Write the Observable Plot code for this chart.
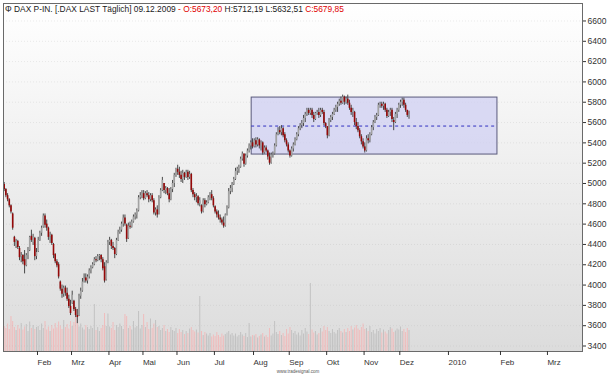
<!DOCTYPE html>
<html>
<head>
<meta charset="utf-8">
<script src="https://cdn.jsdelivr.net/npm/d3@7"></script>
<script src="https://cdn.jsdelivr.net/npm/@observablehq/plot@0.6"></script>
<style>
  body { margin: 0; background: #fff; }
  #wrap { position: relative; width: 609px; height: 378px; overflow: hidden; font-family: "Liberation Sans", Arial, sans-serif; }
  #wrap svg { position: absolute; left: 0; top: 0; }
  #title { position: absolute; left: 5px; top: 4px; font-size: 8.4px; line-height: 10px; color: #1a1a1a; white-space: nowrap; }
  #title .r { color: #e00000; }
  #wm { position: absolute; left: 0; width: 596px; top: 369px; text-align: center; font-size: 4.5px; color: #555; }
</style>
</head>
<body>
<div id="wrap">
  <div id="title"><span>&#934;</span> DAX P-IN. [.DAX LAST Täglich] 09.12.2009 <span class="r">- O:5673,20</span> H:5712,19 L:5632,51 <span class="r">C:5679,85</span></div>
  <div id="wm">www.tradesignal.com</div>
</div>
<script>
// Trading-day index of the first candle (2 = 6 Jan 2009)
const firstIndex = 2;

const opens = [
4990,4940,4880,4840,4780,4700,4470,4380,4430,4360,
4280,4290,4250,4190,4290,4340,4480,4420,4460,4280,
4330,4440,4510,4570,4680,4600,4560,4480,4490,4400,
4300,4230,4200,4030,3960,3910,3970,3920,3860,3790,
3820,3840,3760,3700,3700,3890,3940,4030,4070,4040,
4080,4140,4170,4200,4250,4240,4280,4290,4250,4180,
4050,4220,4420,4440,4380,4360,4300,4440,4520,4540,
4600,4660,4590,4460,4580,4570,4620,4670,4690,4730,
4860,4880,4900,4850,4900,4880,4840,4880,4830,4710,
4740,4700,4860,4930,5000,4930,4950,4900,4840,4940,
5000,5080,5140,5110,5080,5040,5100,5060,5110,5060,
5090,4930,4890,4860,4870,4800,4780,4720,4830,4790,
4810,4860,4890,4850,4770,4720,4690,4660,4640,4610,
4580,4690,4760,4920,4950,4990,5040,5120,5140,5160,
5240,5290,5190,5270,5320,5370,5400,5360,5420,5380,
5430,5370,5400,5300,5350,5320,5260,5200,5280,5290,
5370,5480,5520,5500,5540,5480,5420,5380,5320,5270,
5340,5380,5430,5480,5540,5570,5590,5640,5680,5720,
5690,5720,5670,5630,5690,5700,5670,5720,5700,5590,
5560,5470,5620,5650,5680,5720,5750,5780,5810,5790,
5850,5800,5830,5790,5740,5700,5700,5600,5560,5520,
5460,5410,5360,5320,5440,5420,5480,5550,5600,5650,
5670,5770,5780,5760,5780,5720,5660,5700,5720,5620,
5600,5680,5720,5770,5800,5820,5770,5720,5673.20];

const highs = [
5010,4950,4900,4850,4790,4710,4480,4450,4440,4380,
4320,4300,4340,4310,4370,4480,4540,4500,4470,4360,
4470,4530,4580,4700,4700,4640,4570,4520,4500,4410,
4310,4250,4220,4040,4000,3990,3990,3970,3900,3850,
3940,3850,3780,3760,3910,3970,4065,4110,4110,4100,
4160,4190,4220,4270,4280,4300,4300,4300,4270,4220,
4240,4440,4470,4450,4420,4370,4460,4540,4570,4620,
4690,4690,4600,4610,4620,4640,4690,4710,4750,4880,
4910,4930,4930,4920,4930,4910,4900,4900,4850,4760,
4780,4880,4950,5060,5000,4970,4960,4950,4960,5030,
5100,5150,5180,5160,5120,5130,5110,5130,5130,5120,
5100,4950,4910,4900,4880,4860,4790,4850,4850,4830,
4880,4910,4930,4870,4780,4740,4730,4690,4660,4670,
4700,4780,4950,4980,5010,5060,5150,5160,5180,5260,
5310,5290,5290,5340,5390,5420,5440,5440,5450,5450,
5440,5420,5410,5370,5370,5330,5300,5300,5310,5390,
5500,5550,5560,5570,5550,5500,5440,5400,5330,5360,
5400,5450,5500,5560,5590,5620,5670,5700,5740,5740,
5740,5740,5700,5700,5720,5740,5740,5740,5720,5600,
5560,5640,5670,5700,5740,5770,5800,5830,5850,5870,
5860,5850,5870,5820,5770,5740,5710,5640,5600,5540,
5480,5440,5400,5470,5480,5500,5570,5620,5670,5690,
5790,5800,5800,5800,5790,5740,5720,5740,5740,5650,
5700,5740,5790,5820,5840,5840,5790,5720,5712.19];

const lows = [
4920,4860,4820,4760,4700,4540,4380,4360,4350,4240,
4220,4200,4110,4180,4250,4330,4420,4390,4240,4250,
4320,4430,4480,4560,4560,4530,4440,4410,4390,4260,
4210,4170,4060,3940,3870,3880,3890,3840,3770,3700,
3810,3740,3680,3620,3690,3860,3930,4020,4020,4010,
4060,4110,4160,4190,4220,4230,4240,4220,4140,4020,
4040,4210,4390,4350,4340,4260,4290,4430,4500,4520,
4570,4580,4420,4450,4550,4560,4610,4640,4650,4720,
4840,4850,4830,4840,4860,4810,4820,4810,4690,4680,
4660,4690,4850,4920,4900,4890,4880,4810,4830,4910,
4960,5060,5080,5050,5010,5000,5030,5050,5030,5040,
4910,4860,4830,4810,4780,4770,4700,4710,4760,4780,
4800,4830,4830,4760,4700,4660,4640,4610,4590,4560,
4570,4680,4750,4890,4910,4980,5030,5080,5100,5150,
5220,5160,5180,5250,5300,5330,5340,5350,5350,5360,
5340,5320,5280,5290,5300,5230,5180,5190,5250,5280,
5360,5470,5480,5470,5450,5400,5360,5300,5250,5260,
5310,5370,5420,5460,5520,5540,5560,5600,5660,5670,
5670,5640,5600,5620,5670,5640,5650,5680,5570,5540,
5440,5460,5600,5620,5670,5700,5700,5760,5770,5780,
5770,5780,5770,5720,5670,5650,5570,5530,5500,5440,
5380,5340,5300,5310,5390,5400,5470,5520,5590,5620,
5660,5740,5740,5720,5700,5640,5650,5660,5600,5520,
5590,5640,5700,5740,5760,5740,5700,5650,5632.51];

const closes = [
4940,4880,4840,4780,4720,4560,4420,4430,4370,4270,
4290,4230,4190,4290,4340,4470,4440,4470,4280,4320,
4440,4510,4560,4680,4590,4560,4470,4490,4410,4290,
4230,4190,4080,3960,3910,3970,3920,3860,3790,3720,
3900,3760,3700,3680,3890,3940,4030,4060,4040,4080,
4140,4170,4200,4250,4240,4280,4290,4250,4160,4040,
4220,4420,4440,4380,4360,4300,4440,4520,4540,4600,
4660,4600,4450,4580,4570,4620,4670,4690,4730,4860,
4880,4900,4850,4900,4880,4840,4880,4830,4710,4740,
4690,4860,4930,5030,4930,4950,4900,4840,4940,5000,
5080,5140,5110,5080,5040,5100,5060,5110,5060,5090,
4930,4890,4860,4870,4800,4830,4720,4830,4790,4810,
4860,4890,4850,4780,4720,4690,4660,4640,4610,4580,
4690,4760,4920,4950,4990,5040,5120,5140,5160,5240,
5290,5190,5270,5320,5370,5400,5360,5420,5380,5430,
5370,5400,5300,5350,5320,5260,5200,5280,5290,5370,
5480,5520,5500,5540,5470,5420,5380,5320,5270,5340,
5380,5430,5480,5540,5570,5590,5640,5680,5720,5690,
5720,5670,5630,5690,5700,5670,5720,5700,5590,5560,
5470,5620,5650,5680,5720,5750,5780,5810,5790,5850,
5800,5830,5790,5740,5700,5720,5600,5560,5520,5460,
5410,5360,5320,5440,5420,5480,5550,5600,5650,5670,
5770,5780,5760,5780,5720,5660,5700,5720,5630,5600,
5680,5720,5770,5800,5820,5770,5720,5670,5679.85];

// Volume (Mio. Stück, estimated)
const volumes = [
100,92,110,88,140,120,96,84,104,90,
112,86,98,108,80,118,92,104,88,96,
100,84,110,92,120,86,98,80,104,90,
112,94,118,102,88,124,96,108,90,120,
100,116,148,130,98,110,94,86,104,96,
88,100,92,188,84,96,80,92,104,152,
100,150,98,92,116,84,104,96,110,100,
88,148,140,92,100,86,120,94,100,160,
90,104,148,96,116,88,130,92,110,124,
96,100,84,92,104,80,88,76,96,84,
80,92,72,88,76,84,68,80,72,90,
96,84,78,86,74,220,80,64,76,70,
62,72,58,66,60,76,64,56,70,62,
68,74,80,66,72,62,70,58,64,76,
66,60,72,56,112,58,64,62,68,54,
60,66,72,58,64,56,92,62,70,120,
76,68,80,64,72,60,88,70,96,84,
72,80,66,74,62,84,70,92,78,68,
272,86,74,80,66,72,92,78,100,84,
96,80,72,88,76,70,84,92,80,74,
88,76,92,80,100,86,94,104,90,84,
96,110,88,92,80,100,76,84,70,88,
80,92,74,86,78,70,84,96,90,76,
82,90,86,98,80,88,76,92,84];

// Axis ticks
const yTicks = [3400,3600,3800,4000,4200,4400,4600,4800,5000,5200,5400,5600,5800,6000,6200,6400,6600];
const monthTicks = [21, 41, 63, 83, 103, 125, 148, 169, 191, 213, 234, 262.6, 293.2, 320.8];
const monthLabels = ["Feb","Mrz","Apr","Mai","Jun","Jul","Aug","Sep","Okt","Nov","Dez","2010","Feb","Mrz"];

// Trading range box (Aug 2009 -> Jan 2010)
const boxStart = [147.5];
const boxEnd = [292];
const boxLow = [5285];
const boxHigh = [5846];

const candles = opens.map((o, k) => ({i: firstIndex + k, o, h: highs[k], l: lows[k], c: closes[k], v: volumes[k]}));
const up = candles.filter(d => d.c >= d.o);
const down = candles.filter(d => d.c < d.o);
const box = boxStart.map((s, k) => ({start: s, end: boxEnd[k], low: boxLow[k], high: boxHigh[k], mid: (boxLow[k] + boxHigh[k]) / 2}));

const common = {
  width: 609, height: 378,
  marginTop: 3, marginBottom: 27, marginLeft: 3, marginRight: 27,
  x: {type: "linear", domain: [1.6, 342], axis: null}
};

// Volume layer (with gradient background)
const vol = Plot.plot({
  ...common,
  y: {domain: [0, 1392], axis: null},
  style: {background: "transparent"},
  marks: [
    Plot.frame({fill: "url(#bgGrad)"}),
    Plot.ruleX(up, {x: "i", y1: 0, y2: "v", stroke: "#c2c2c2", strokeWidth: 1}),
    Plot.ruleX(down, {x: "i", y1: 0, y2: "v", stroke: "#f0bcbc", strokeWidth: 1})
  ]
});
d3.select(vol).insert("defs", ":first-child").html(
  '<linearGradient id="bgGrad" x1="0" y1="0" x2="0" y2="1">' +
  '<stop offset="0" stop-color="#ffffff"/><stop offset="1" stop-color="#dcdcdc"/></linearGradient>');

// Price layer
const price = Plot.plot({
  ...common,
  y: {domain: [3346, 6772], axis: null},
  style: {background: "transparent", fontFamily: "Liberation Sans, Arial, sans-serif", overflow: "visible"},
  marks: [
    Plot.gridY(yTicks, {stroke: "#a0a0a0", strokeOpacity: 0.2, strokeDasharray: "1,2"}),
    Plot.rect(box, {x1: "start", x2: "end", y1: "low", y2: "high", fill: "#cfcff3", fillOpacity: 0.72, stroke: "#5a5a7c", strokeWidth: 1}),
    Plot.ruleY(box, {x1: "start", x2: "end", y: "mid", stroke: "#3030c0", strokeDasharray: "3,3"}),
    Plot.ruleX(candles, {x: "i", y1: "l", y2: "h", stroke: "#484848", strokeWidth: 1}),
    Plot.ruleX(up, {x: "i", y1: "o", y2: "c", stroke: "#a2a2a2", strokeWidth: 1.6}),
    Plot.ruleX(down, {x: "i", y1: "o", y2: "c", stroke: "#950808", strokeWidth: 1.6}),
    Plot.frame({stroke: "#6a6a6a"}),
    Plot.axisY(yTicks, {anchor: "right", tickSize: 3, tickPadding: 2, fontSize: 8.5, color: "#333", tickFormat: d => String(d)}),
    Plot.axisX(monthTicks, {anchor: "bottom", tickSize: 4, tickPadding: 4, fontSize: 8, color: "#333", textAnchor: "start", dx: 1,
      tickFormat: d => monthLabels[monthTicks.indexOf(d)]})
  ]
});

const wrap = document.getElementById("wrap");
wrap.insertBefore(price, wrap.firstChild);
wrap.insertBefore(vol, wrap.firstChild);
</script>
</body>
</html>
